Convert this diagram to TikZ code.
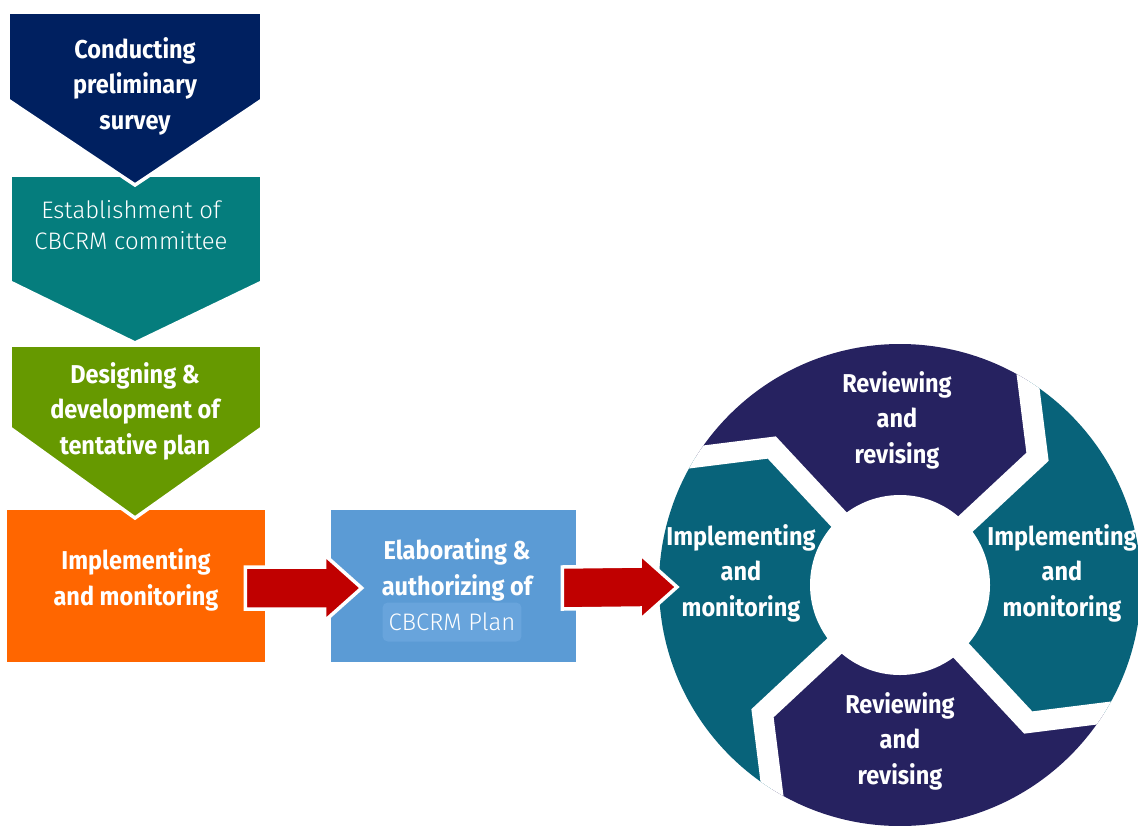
\documentclass[tikz,border=0pt]{standalone}
\usepackage{fontspec}
\setmainfont{Fira Sans}
\newfontfamily\boldfont{Fira Sans}[FakeStretch=0.91]
\newfontfamily\lightfont{Fira Sans Light}
\usetikzlibrary{positioning,calc}
\definecolor{surveyblue}{RGB}{0,32,96}
\definecolor{committeeteal}{RGB}{5,125,125}
\definecolor{designgreen}{RGB}{102,153,0}
\definecolor{implorange}{RGB}{255,102,0}
\definecolor{elabblue}{RGB}{91,155,213}
\definecolor{planblue}{RGB}{104,164,220}
\definecolor{arrowred}{RGB}{192,0,0}
\definecolor{ringnavy}{RGB}{38,34,96}
\definecolor{ringteal}{RGB}{8,99,122}
% block arrow from #1 (tail) to #2 (tip)
\newcommand{\blockarrow}[2]{%
  \draw[block] ($(#1)+(0,-21)$) -- ($(#2)+(-37,-21)$) -- ($(#2)+(-37,-33)$) -- (#2)
    -- ($(#2)+(-37,33)$) -- ($(#2)+(-37,21)$) -- ($(#1)+(0,21)$) -- cycle;}

\begin{document}
\begin{tikzpicture}[x=0.02cm, y=-0.02cm]
  \tikzstyle{chevron} = [draw=white, line width=2pt, line join=miter]
  \tikzstyle{panel} = [rectangle, minimum height=3.04cm, inner sep=0pt]
  \tikzstyle{boldtext} = [text=white, align=center, inner sep=0pt, font=\boldfont\bfseries\fontsize{14.7}{20.2}\selectfont]
  \tikzstyle{lighttext} = [text=white, align=center, inner sep=0pt, font=\lightfont\fontsize{13.6}{17.6}\selectfont]
  \tikzstyle{block} = [fill=arrowred, draw=white, line width=2pt, line join=miter]
  \tikzstyle{gap} = [draw=white, line width=12pt, line join=miter]
  \useasboundingbox (0,0) rectangle (1138,825);

  % left column, drawn from the bottom up
  \node (impl) [panel, fill=implorange, minimum width=5.16cm] at (136,586) {};
  \node (impltxt) [boldtext] at (136,580) {Implementing\\and monitoring};
  \draw[chevron, fill=designgreen] (10,345) -- (262,345) -- (262,428) -- (135,518) -- (10,428) -- cycle;
  \draw[chevron, fill=committeeteal] (10,175) -- (262,175) -- (262,282) -- (135,343) -- (10,282) -- cycle;
  \draw[chevron, fill=surveyblue] (8,12) -- (262,12) -- (262,100) -- (135,185) -- (8,100) -- cycle;
  \node (survey) [boldtext] at (135,86) {Conducting\\preliminary\\survey};
  \node (committee) [lighttext] at (131,225) {Establishment of\\CBCRM committee};
  \node (design) [boldtext] at (135,411) {Designing \&\\development of\\tentative plan};

  % plan box
  \node (elab) [panel, fill=elabblue, minimum width=4.9cm] at (453.5,586) {};
  \node (elabtxt) [boldtext] at (457,570) {Elaborating \&\\authorizing of};
  \node (plan) [lighttext, fill=planblue, rounded corners=3pt, minimum width=2.78cm, minimum height=0.78cm] at (452,622) {CBCRM Plan};

  % cycle
  \coordinate (hub) at (900,585);
  \begin{scope}[shift={(hub)}, y=0.02cm]
    \begin{scope}
      \clip (0,0) circle (241);
      \foreach \a/\col in {0/ringnavy, -90/ringteal, -180/ringnavy, -270/ringteal}
        \fill[\col] (0,0) -- (133+\a:188) -- (159+\a:323) -- (159+\a:420) -- (114+\a:450)
          -- (69+\a:420) -- (69+\a:323) -- (43+\a:188) -- cycle;
      \foreach \a in {0,-90,-180,-270}
        \draw[gap] (133+\a:60) -- (133+\a:188) -- (159+\a:323);
      \fill[white] (0,0) circle (90);
    \end{scope}
    \node (reviewT) [boldtext] at (-3,165) {Reviewing\\and\\revising};
    \node (implR) [boldtext] at (162,12) {Implementing\\and\\monitoring};
    \node (reviewB) [boldtext] at (0,-156) {Reviewing\\and\\revising};
    \node (implL) [boldtext] at (-159,12) {Implementing\\and\\monitoring};
  \end{scope}

  % arrows
  \coordinate (a1s) at ($(impl.east)+(-20,2)$);
  \coordinate (a1e) at ($(elab.west)+(31,2)$);
  \coordinate (a2s) at ($(elab.east)+(-14,2)$);
  \coordinate (a2e) at ($(hub)+(-223,2)$);
  \blockarrow{a1s}{a1e}
  \blockarrow{a2s}{a2e}
\end{tikzpicture}
\end{document}
